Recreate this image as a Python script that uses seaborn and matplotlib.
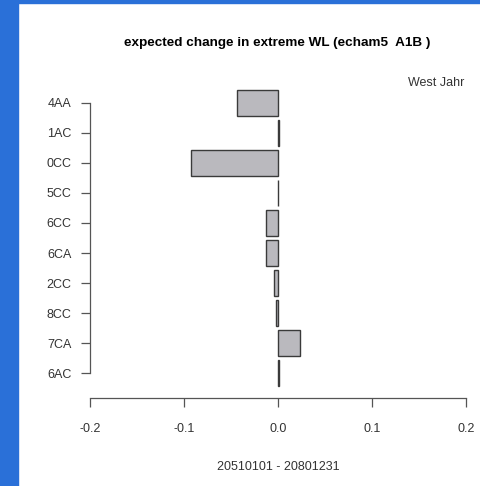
"""Horizontal bar chart of expected change in extreme water level per station."""

import matplotlib.pyplot as plt
import pandas as pd
import seaborn as sns
from matplotlib.patches import Rectangle

stations = ['4AA', '1AC', '0CC', '5CC', '6CC', '6CA', '2CC', '8CC', '7CA', '6AC']
changes = [-0.0435, 0.0008, -0.0924, 0.0, -0.0126, -0.0126, -0.0036, -0.0024, 0.0240, 0.0008]
x_ticks = [-0.2, -0.1, 0.0, 0.1, 0.2]

title = 'expected change in extreme WL (echam5  A1B )'
subtitle = 'West Jahr'
period = '20510101 - 20801231'

W, H = 481, 486
df = pd.DataFrame({'station': stations, 'change': changes})

sns.set_style('white')
plt.rcParams['font.family'] = ['Liberation Sans', 'DejaVu Sans']

fig = plt.figure(figsize=(W / 100, H / 100), dpi=100, facecolor='white')
# blue frame of the screenshot (left and top edge)
fig.patches.append(Rectangle((0, 0), 18 / W, 1, transform=fig.transFigure,
                             color='#2a70d8', zorder=-1))
fig.patches.append(Rectangle((0, 1 - 3 / H), 1, 3 / H, transform=fig.transFigure,
                             color='#2a70d8', zorder=-1))

left, right, top, bottom = 90, 465.7, 73, 398
ax = fig.add_axes([left / W, 1 - bottom / H, (right - left) / W, (bottom - top) / H])
ax.set_facecolor('white')

sns.barplot(data=df, x='change', y='station', orient='h', ax=ax,
            color='#bab9be', saturation=1, width=0.865,
            edgecolor='#3a3a3a', linewidth=1.0)

ax.set_xlim(-0.2, 0.2)
ax.set_ylim(9 + (bottom - 373.3) / 30.07, -(102.7 - top) / 30.07)
ax.set_xticks(x_ticks)
ax.set_xticklabels([f'{t:.1f}' for t in x_ticks])
ax.set_xlabel(period, fontsize=9, color='#333333', labelpad=19)
ax.set_ylabel('')

for side in ['top', 'right']:
    ax.spines[side].set_visible(False)
ax.spines['left'].set_bounds(0, 9)
ax.spines['bottom'].set_bounds(-0.2, 0.2)
for side in ['left', 'bottom']:
    ax.spines[side].set_color('#555555')
    ax.spines[side].set_linewidth(0.9)

ax.tick_params(axis='both', which='major', direction='out', length=6.3,
               width=0.9, color='#555555', labelcolor='#333333', labelsize=9,
               bottom=True, left=True)
ax.tick_params(axis='y', pad=7)
ax.tick_params(axis='x', pad=11.5)

fig.text(277 / W, 1 - 43 / H, title, ha='center', va='center',
         fontsize=9.7, fontweight='bold', color='black')
fig.text(464 / W, 1 - 83 / H, subtitle, ha='right', va='center',
         fontsize=9, color='#333333')

fig.savefig('out.png', dpi=100, facecolor=fig.get_facecolor())
